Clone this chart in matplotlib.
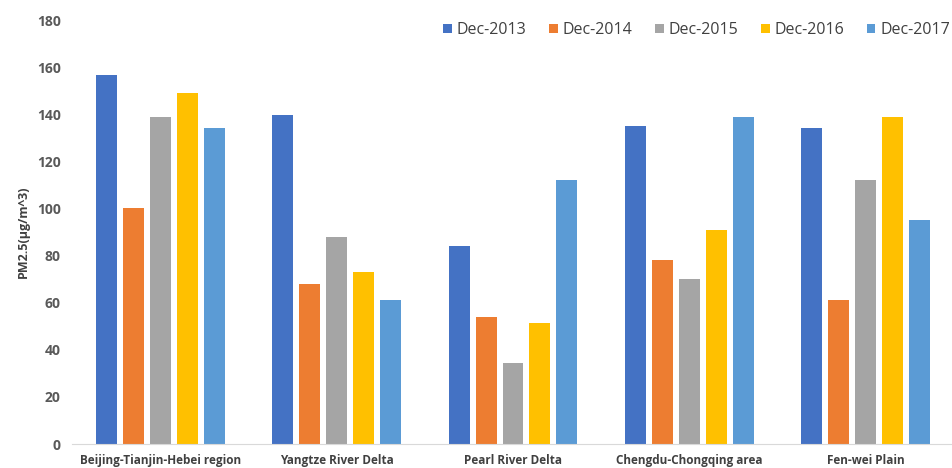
import matplotlib
matplotlib.use("Agg")
import matplotlib.pyplot as plt
import numpy as np

regions = ["Beijing-Tianjin-Hebei region", "Yangtze River Delta", "Pearl River Delta",
           "Chengdu-Chongqing area", "Fen-wei Plain"]
series = ["Dec-2013", "Dec-2014", "Dec-2015", "Dec-2016", "Dec-2017"]
dec2013 = [156.5, 139.5, 84, 135, 134]
dec2014 = [100, 68, 54, 78, 61]
dec2015 = [139, 88, 34.5, 70, 112]
dec2016 = [149, 73, 51.5, 91, 139]
dec2017 = [134, 61, 112, 139, 95]
values = [dec2013, dec2014, dec2015, dec2016, dec2017]
colors = ["#4472C4", "#ED7D31", "#A5A5A5", "#FFC000", "#5B9BD5"]

plt.rcParams['font.family'] = ['Open Sans', 'DejaVu Sans']
fig = plt.figure(figsize=(9.53, 4.68), dpi=100)
ax = fig.add_axes([72/953, 24/468, (954-72)/953, (444-20)/468])

x = np.arange(len(regions))
pitch = 0.153
width = 0.119
for i, (s, v, c) in enumerate(zip(series, values, colors)):
    ax.bar(x + (i - 2) * pitch, v, width=width, color=c, label=s)

ax.set_xlim(-0.5, len(regions) - 0.5)
ax.set_ylim(0, 180)
ax.set_yticks(np.arange(0, 181, 20))
ax.set_xticks(x)
ax.set_xticklabels(regions, fontsize=8.5, fontweight='bold', color='#404040')
for lab in ax.get_yticklabels():
    lab.set_fontweight('bold')
ax.tick_params(axis='y', labelsize=10, colors='#595959', length=0, pad=8)
ax.tick_params(axis='x', length=0, pad=7)
for sp in ['top', 'right', 'left']:
    ax.spines[sp].set_visible(False)
ax.spines['bottom'].set_color('#D9D9D9')
ax.set_ylabel("PM2.5(μg/m^3)", fontsize=9, fontweight='bold', color='#404040', labelpad=5)

leg = ax.legend(loc='upper right', bbox_to_anchor=((950-72)/882, 0.995), ncol=5, frameon=False,
                fontsize=11.5, handlelength=0.56, handleheight=0.56, handletextpad=0.3,
                columnspacing=1.4, labelcolor='#404040', borderpad=0, borderaxespad=0)

fig.savefig("out.png", dpi=100)
